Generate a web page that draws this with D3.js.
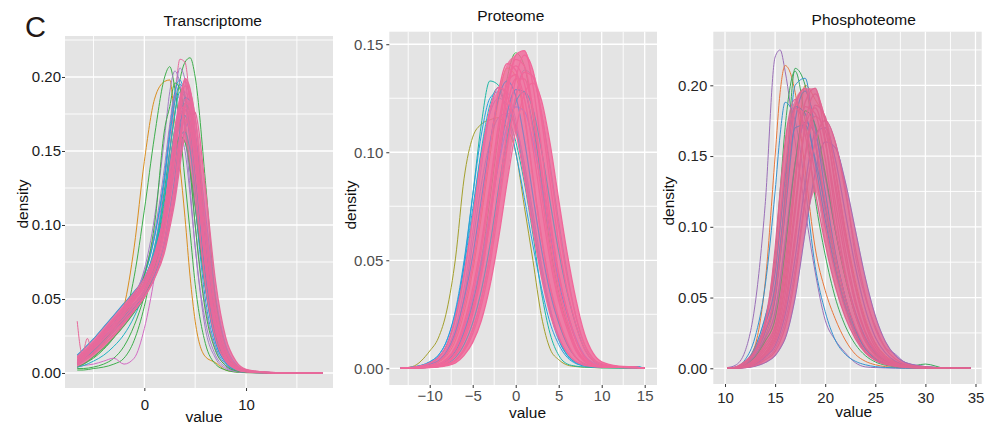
<!DOCTYPE html>
<html><head><meta charset="utf-8">
<script src="https://cdn.jsdelivr.net/npm/d3@7"></script>
<style>body{margin:0;background:#fff}svg{display:block}text{font-family:"Liberation Sans",Arial,Helvetica,sans-serif}</style>
</head><body><svg id="c" width="987" height="423"></svg>
<script>
// ---------------- DATA ----------------
const panelTitles = ["Transcriptome", "Proteome", "Phosphoteome"];

// Transcriptome
const transGrid = [-6.6,-6,-5,-4,-3,-2,-1,0,1,2,2.5,3,3.5,4,4.5,5,6,7,8,9,10,12,14,17.5];
const transBundle = [
 [0.010,0.013,0.020,0.028,0.036,0.044,0.052,0.061,0.078,0.108,0.132,0.158,0.186,0.197,0.185,0.150,0.072,0.028,0.009,0.003,0.001,0.0003,0.0001,0],
 [0.006,0.009,0.015,0.022,0.030,0.038,0.047,0.056,0.072,0.100,0.120,0.140,0.160,0.163,0.150,0.125,0.068,0.030,0.011,0.004,0.0015,0.0004,0.0001,0],
 [0.007,0.010,0.016,0.023,0.030,0.037,0.045,0.054,0.068,0.090,0.108,0.128,0.158,0.182,0.182,0.160,0.092,0.040,0.014,0.005,0.0018,0.0004,0.0001,0],
 [0.012,0.016,0.023,0.031,0.039,0.047,0.055,0.064,0.082,0.112,0.132,0.152,0.170,0.174,0.160,0.132,0.066,0.026,0.009,0.003,0.001,0.0003,0.0001,0],
 [0.005,0.008,0.013,0.019,0.026,0.034,0.042,0.051,0.064,0.085,0.102,0.122,0.152,0.180,0.190,0.172,0.102,0.045,0.016,0.005,0.002,0.0005,0.0001,0],
 [0.008,0.011,0.017,0.024,0.031,0.039,0.047,0.055,0.068,0.088,0.103,0.120,0.145,0.165,0.170,0.160,0.108,0.052,0.019,0.006,0.002,0.0005,0.0001,0],
 [0.009,0.012,0.018,0.026,0.033,0.041,0.049,0.058,0.073,0.100,0.122,0.148,0.178,0.194,0.188,0.158,0.080,0.032,0.011,0.004,0.0012,0.0003,0.0001,0],
 [0.004,0.006,0.011,0.017,0.024,0.032,0.041,0.051,0.070,0.104,0.127,0.148,0.160,0.156,0.138,0.112,0.058,0.024,0.009,0.003,0.001,0.0003,0.0001,0],
 [0.008,0.011,0.017,0.025,0.033,0.041,0.050,0.059,0.075,0.104,0.126,0.150,0.172,0.180,0.170,0.142,0.074,0.030,0.010,0.003,0.001,0.0003,0.0001,0],
 [0.006,0.009,0.015,0.021,0.028,0.036,0.044,0.053,0.066,0.090,0.110,0.132,0.164,0.186,0.184,0.162,0.090,0.038,0.013,0.004,0.0015,0.0004,0.0001,0],
 [0.010,0.013,0.019,0.027,0.035,0.043,0.051,0.060,0.074,0.098,0.117,0.138,0.160,0.171,0.165,0.145,0.082,0.036,0.012,0.004,0.0013,0.0003,0.0001,0],
 [0.007,0.010,0.016,0.023,0.031,0.039,0.047,0.056,0.070,0.096,0.120,0.146,0.180,0.199,0.192,0.162,0.082,0.032,0.011,0.0035,0.0012,0.0003,0.0001,0],
 [0.006,0.009,0.014,0.021,0.028,0.035,0.043,0.052,0.064,0.082,0.098,0.116,0.140,0.165,0.178,0.176,0.125,0.062,0.024,0.008,0.0025,0.0005,0.0001,0],
 [0.011,0.014,0.021,0.029,0.037,0.045,0.054,0.064,0.080,0.110,0.138,0.162,0.180,0.178,0.160,0.128,0.060,0.023,0.008,0.0025,0.0008,0.0002,0.0001,0]
];
const transBundleKeys = ["pink","cyan","pink","blue","pink","purple","pink","green","pink","blue","pink","pink","pink","pink"];
const transOutliers = [
 [0.006,0.008,0.013,0.020,0.030,0.045,0.085,0.143,0.185,0.197,0.198,0.170,0.140,0.105,0.065,0.035,0.011,0.007,0.002,0.0008,0.0003,0.0001,0,0],
 [0.004,0.006,0.010,0.016,0.024,0.036,0.065,0.110,0.160,0.200,0.207,0.192,0.165,0.130,0.095,0.060,0.020,0.006,0.002,0.0006,0.0002,0,0,0],
 [0.002,0.002,0.003,0.004,0.006,0.010,0.022,0.045,0.080,0.125,0.150,0.175,0.198,0.210,0.213,0.200,0.130,0.050,0.016,0.005,0.0015,0.0003,0,0],
 [0.006,0.009,0.014,0.021,0.028,0.036,0.045,0.055,0.075,0.115,0.150,0.185,0.212,0.210,0.180,0.135,0.060,0.022,0.007,0.002,0.0008,0.0002,0,0],
 [0.007,0.010,0.016,0.023,0.031,0.040,0.052,0.070,0.105,0.160,0.190,0.204,0.195,0.165,0.125,0.085,0.035,0.012,0.004,0.0012,0.0004,0.0001,0,0],
 [0.008,0.011,0.017,0.024,0.032,0.041,0.050,0.062,0.085,0.130,0.160,0.188,0.206,0.198,0.170,0.130,0.058,0.021,0.007,0.002,0.0007,0.0002,0,0],
 [0.003,0.003,0.004,0.006,0.010,0.018,0.032,0.052,0.080,0.118,0.142,0.165,0.178,0.182,0.176,0.158,0.100,0.048,0.017,0.005,0.0015,0.0003,0,0],
 [0.004,0.005,0.006,0.008,0.010,0.006,0.010,0.030,0.065,0.112,0.140,0.165,0.185,0.190,0.180,0.155,0.090,0.040,0.013,0.004,0.0012,0.0003,0,0],
 [0.004,0.005,0.008,0.012,0.018,0.026,0.038,0.055,0.082,0.120,0.142,0.162,0.175,0.178,0.170,0.150,0.095,0.045,0.016,0.005,0.0015,0.0003,0,0],
 [0.009,0.012,0.019,0.027,0.035,0.043,0.053,0.066,0.092,0.135,0.165,0.190,0.198,0.185,0.155,0.115,0.050,0.018,0.006,0.002,0.0006,0.0002,0,0],
 [0.006,0.009,0.014,0.021,0.029,0.037,0.046,0.056,0.075,0.108,0.130,0.150,0.160,0.150,0.120,0.085,0.030,0.010,0.003,0.001,0.0003,0.0001,0,0],
 [0.008,0.011,0.017,0.025,0.033,0.042,0.053,0.068,0.095,0.140,0.168,0.188,0.185,0.165,0.135,0.100,0.045,0.016,0.005,0.0015,0.0005,0.0001,0,0],
 [0.009,0.012,0.018,0.026,0.034,0.043,0.053,0.066,0.092,0.132,0.160,0.183,0.195,0.188,0.162,0.125,0.058,0.021,0.007,0.002,0.0006,0.0002,0,0],
 [0.008,0.011,0.017,0.025,0.033,0.041,0.050,0.062,0.085,0.122,0.150,0.175,0.190,0.186,0.165,0.132,0.065,0.025,0.008,0.0025,0.0008,0.0002,0,0],
 [0.007,0.010,0.015,0.022,0.030,0.039,0.050,0.066,0.100,0.165,0.180,0.196,0.192,0.170,0.138,0.100,0.042,0.015,0.005,0.0015,0.0005,0.0001,0,0]
];
const transOutlierKeys = ["orange","green","green","pink","purple","purple","green","magenta","cyan","blue","purple","purple","blue","cyan","green"];
const transWiggleX = [-6.6,-6.1,-5.6,-5.17,-4.8,-4,-3,-2,-1,0,1,2,2.5,3,3.5,4,4.5,5,6,7,8,9,10,12,14,17.5];
const transWiggleY = [0.035,0.0128,0.0234,0.0155,0.018,0.025,0.033,0.041,0.050,0.059,0.076,0.105,0.128,0.152,0.175,0.185,0.176,0.146,0.076,0.030,0.010,0.003,0.001,0.0003,0.0001,0];

// Proteome
const protGrid = [-13.4,-12,-10,-9,-8,-7,-6,-5,-4,-3,-2,-1,0,1,2,3,4,5,6,7,8,9,10,12,14,15];
const protBundle = [
 [0,0.0003,0.0015,0.003,0.007,0.015,0.029,0.048,0.074,0.102,0.128,0.141,0.138,0.118,0.089,0.061,0.038,0.023,0.012,0.005,0.002,0.001,0.0007,0.0004,0.0003,0],
 [0,0.0001,0.0005,0.001,0.002,0.004,0.009,0.018,0.032,0.052,0.080,0.110,0.134,0.145,0.138,0.115,0.086,0.058,0.036,0.020,0.009,0.0035,0.0015,0.0007,0.0004,0],
 [0,0.0002,0.0008,0.0016,0.0035,0.008,0.017,0.030,0.047,0.070,0.096,0.118,0.129,0.128,0.112,0.088,0.062,0.040,0.025,0.013,0.0055,0.002,0.001,0.0006,0.0004,0],
 [0,0.0003,0.001,0.002,0.0045,0.010,0.021,0.037,0.058,0.085,0.113,0.132,0.136,0.125,0.102,0.075,0.050,0.031,0.018,0.008,0.003,0.0012,0.0008,0.0005,0.0003,0],
 [0,0.0001,0.0006,0.0012,0.0025,0.006,0.013,0.025,0.043,0.068,0.098,0.126,0.145,0.147,0.131,0.102,0.070,0.044,0.026,0.013,0.005,0.002,0.001,0.0006,0.0004,0],
 [0,0.0002,0.001,0.002,0.004,0.009,0.018,0.032,0.050,0.072,0.094,0.112,0.121,0.119,0.105,0.084,0.061,0.041,0.026,0.014,0.006,0.0025,0.0012,0.0007,0.0004,0],
 [0,0.0001,0.0004,0.0008,0.0016,0.0035,0.008,0.016,0.029,0.048,0.074,0.102,0.125,0.137,0.135,0.118,0.092,0.065,0.042,0.024,0.011,0.0045,0.002,0.0008,0.0005,0],
 [0,0.0004,0.0018,0.0035,0.008,0.017,0.032,0.052,0.078,0.104,0.125,0.133,0.126,0.106,0.080,0.055,0.035,0.021,0.011,0.005,0.002,0.001,0.0007,0.0004,0.0003,0],
 [0,0.0002,0.0007,0.0014,0.003,0.0065,0.015,0.028,0.046,0.072,0.102,0.129,0.143,0.140,0.120,0.090,0.061,0.038,0.022,0.010,0.004,0.0016,0.0009,0.0005,0.0003,0],
 [0,0.0001,0.0005,0.001,0.0022,0.005,0.011,0.021,0.036,0.057,0.083,0.107,0.123,0.128,0.120,0.101,0.077,0.054,0.035,0.020,0.009,0.0035,0.0015,0.0007,0.0004,0],
 [0,0.0002,0.0009,0.0018,0.004,0.009,0.019,0.034,0.055,0.082,0.110,0.132,0.140,0.132,0.110,0.081,0.054,0.033,0.019,0.009,0.0035,0.0014,0.0008,0.0005,0.0003,0],
 [0,0.0001,0.0007,0.0013,0.003,0.007,0.015,0.027,0.044,0.068,0.096,0.121,0.134,0.134,0.119,0.093,0.066,0.043,0.026,0.013,0.0055,0.0022,0.001,0.0006,0.0004,0],
 [0,0.0005,0.0025,0.005,0.011,0.024,0.044,0.070,0.098,0.120,0.130,0.126,0.110,0.088,0.064,0.042,0.025,0.014,0.007,0.003,0.0014,0.0008,0.0005,0.0004,0.0003,0],
 [0,0.0001,0.0003,0.0006,0.0012,0.0025,0.006,0.012,0.022,0.038,0.060,0.086,0.110,0.127,0.132,0.124,0.104,0.078,0.053,0.032,0.016,0.007,0.003,0.001,0.0005,0]
];
const protBundleKeys = ["pink","pink","blue","pink","pink","purple","pink","blue","pink","cyan","pink","pink","pink","pink"];
const protOutliers = [
 [0,0.0008,0.008,0.014,0.027,0.051,0.088,0.107,0.113,0.115,0.116,0.111,0.100,0.075,0.050,0.024,0.009,0.004,0.0015,0.0008,0.0005,0.0003,0.0002,0.0001,0,0],
 [0,0.0003,0.002,0.005,0.011,0.024,0.048,0.080,0.113,0.133,0.131,0.118,0.105,0.086,0.062,0.035,0.016,0.006,0.002,0.001,0.0006,0.0004,0.0002,0.0001,0,0],
 [0,0.0005,0.003,0.006,0.013,0.026,0.047,0.074,0.100,0.118,0.125,0.122,0.110,0.091,0.068,0.045,0.026,0.013,0.006,0.003,0.0015,0.0008,0.0005,0.0004,0.0003,0],
 [0,0.0001,0.0004,0.0008,0.0018,0.004,0.009,0.018,0.032,0.052,0.078,0.104,0.126,0.138,0.135,0.118,0.094,0.068,0.044,0.024,0.011,0.0045,0.002,0.0008,0.0008,0],
 [0,0.0002,0.0008,0.0015,0.0032,0.007,0.016,0.030,0.050,0.078,0.108,0.134,0.146,0.140,0.117,0.086,0.057,0.035,0.020,0.009,0.0035,0.0014,0.0008,0.0005,0.0003,0],
 [0,0.0003,0.0014,0.0028,0.006,0.013,0.026,0.045,0.070,0.098,0.124,0.139,0.135,0.116,0.088,0.060,0.038,0.022,0.011,0.005,0.002,0.001,0.0006,0.0004,0.0003,0],
 [0,0.0003,0.0015,0.003,0.007,0.016,0.033,0.058,0.085,0.105,0.116,0.118,0.112,0.095,0.072,0.048,0.028,0.014,0.006,0.0025,0.0012,0.0008,0.0006,0.0008,0.0006,0],
 [0,0.0004,0.002,0.004,0.009,0.019,0.037,0.063,0.093,0.118,0.130,0.128,0.115,0.094,0.070,0.047,0.028,0.015,0.007,0.003,0.0014,0.0008,0.0005,0.0004,0.0003,0],
 [0,0.0006,0.003,0.006,0.013,0.027,0.050,0.080,0.108,0.125,0.128,0.118,0.100,0.079,0.057,0.037,0.021,0.011,0.005,0.0022,0.001,0.0006,0.0004,0.0006,0.0008,0],
 [0,0.0005,0.0025,0.005,0.011,0.023,0.043,0.071,0.101,0.122,0.130,0.126,0.112,0.091,0.067,0.044,0.026,0.014,0.006,0.0027,0.0012,0.0007,0.0004,0.0003,0.0002,0]
];
const protOutlierKeys = ["olive","teal","blue","cyan","green","orange","blue","purple","blue","cyan"];

// Phosphoteome
const phosGrid = [10.2,11,12,13,14,15,15.5,16,17,18,19,20,21,22,23,24,25,26,27,28,30,32,34.5];
const phosBundle = [
 [0,0.0003,0.002,0.007,0.017,0.030,0.048,0.075,0.135,0.185,0.180,0.148,0.100,0.065,0.038,0.020,0.010,0.005,0.0025,0.0012,0.0004,0.0001,0],
 [0,0.0005,0.003,0.011,0.026,0.050,0.078,0.110,0.175,0.196,0.170,0.125,0.082,0.050,0.028,0.014,0.007,0.0035,0.0018,0.0009,0.0003,0.0001,0],
 [0,0.0002,0.001,0.004,0.010,0.020,0.030,0.046,0.095,0.150,0.178,0.168,0.132,0.092,0.058,0.033,0.017,0.008,0.004,0.002,0.0006,0.0002,0],
 [0,0.0004,0.0025,0.009,0.021,0.040,0.062,0.090,0.145,0.174,0.165,0.135,0.098,0.066,0.040,0.022,0.011,0.0055,0.0028,0.0014,0.0005,0.0001,0],
 [0,0.0002,0.0015,0.006,0.015,0.028,0.044,0.068,0.132,0.188,0.198,0.162,0.110,0.068,0.038,0.019,0.009,0.0045,0.0022,0.0011,0.0004,0.0001,0],
 [0,0.0001,0.0008,0.003,0.008,0.016,0.025,0.038,0.078,0.130,0.166,0.170,0.148,0.110,0.072,0.042,0.022,0.011,0.005,0.0025,0.0008,0.0002,0],
 [0,0.0006,0.004,0.015,0.036,0.068,0.100,0.135,0.185,0.180,0.145,0.105,0.070,0.043,0.024,0.012,0.006,0.003,0.0015,0.0008,0.0003,0.0001,0],
 [0,0.0002,0.0012,0.005,0.013,0.025,0.038,0.058,0.115,0.170,0.184,0.160,0.118,0.078,0.046,0.025,0.012,0.006,0.003,0.0015,0.0005,0.0001,0],
 [0,0.0003,0.002,0.008,0.019,0.035,0.055,0.083,0.145,0.182,0.172,0.138,0.098,0.064,0.038,0.020,0.010,0.005,0.0025,0.0012,0.0004,0.0001,0],
 [0,0.0001,0.0008,0.0035,0.009,0.018,0.028,0.042,0.090,0.150,0.186,0.178,0.140,0.096,0.058,0.031,0.015,0.007,0.0035,0.0017,0.0006,0.0002,0],
 [0,0.0005,0.0035,0.013,0.031,0.058,0.086,0.118,0.170,0.172,0.148,0.115,0.080,0.050,0.028,0.014,0.007,0.0035,0.0018,0.0009,0.0003,0.0001,0],
 [0,0.0002,0.001,0.0045,0.011,0.022,0.034,0.052,0.110,0.172,0.194,0.175,0.128,0.084,0.049,0.026,0.013,0.006,0.003,0.0015,0.0005,0.0001,0],
 [0,0.0008,0.005,0.012,0.030,0.085,0.125,0.160,0.190,0.165,0.125,0.088,0.058,0.036,0.021,0.011,0.0055,0.0028,0.0014,0.0007,0.0002,0.0001,0],
 [0,0.0006,0.004,0.012,0.032,0.072,0.106,0.140,0.184,0.170,0.138,0.100,0.068,0.042,0.024,0.012,0.006,0.003,0.0015,0.0008,0.0003,0.0001,0],
 [0,0.0001,0.0005,0.002,0.006,0.012,0.019,0.029,0.065,0.118,0.160,0.175,0.160,0.125,0.085,0.052,0.028,0.014,0.0065,0.003,0.001,0.0003,0],
 [0,0.0004,0.003,0.011,0.027,0.052,0.080,0.115,0.185,0.198,0.162,0.118,0.080,0.050,0.029,0.015,0.0075,0.0037,0.0018,0.0009,0.0003,0.0001,0],
 [0,0.0001,0.0004,0.0015,0.004,0.009,0.014,0.021,0.050,0.096,0.138,0.160,0.156,0.132,0.098,0.064,0.037,0.019,0.009,0.004,0.0012,0.0003,0]
];
const phosBundleKeys = ["pink","blue","pink","purple","pink","purple","blue","pink","green","pink","blue","pink","pink","pink","pink","pink","purple"];
const phosOutliers = [
 [0.0005,0.002,0.012,0.045,0.115,0.220,0.225,0.210,0.160,0.112,0.068,0.034,0.020,0.011,0.004,0.001,0.0005,0.0002,0.0001,0,0,0,0],
 [0,0.0005,0.004,0.016,0.060,0.150,0.195,0.214,0.195,0.140,0.085,0.055,0.035,0.020,0.010,0.005,0.0025,0.0012,0.0006,0.0003,0.0001,0,0],
 [0,0.0001,0.001,0.004,0.011,0.025,0.040,0.062,0.130,0.200,0.190,0.175,0.140,0.098,0.062,0.035,0.018,0.009,0.0045,0.002,0.0006,0.0002,0],
 [0,0.0004,0.003,0.012,0.032,0.080,0.125,0.170,0.210,0.175,0.120,0.080,0.050,0.030,0.017,0.009,0.0045,0.0022,0.0011,0.0006,0.0002,0.0001,0],
 [0,0.0003,0.002,0.008,0.022,0.050,0.082,0.125,0.212,0.200,0.160,0.115,0.075,0.046,0.026,0.014,0.007,0.0035,0.0017,0.0008,0.003,0.0001,0],
 [0,0.0008,0.006,0.022,0.058,0.125,0.165,0.188,0.175,0.128,0.072,0.040,0.020,0.010,0.005,0.0025,0.0012,0.0006,0.0003,0.0001,0,0,0],
 [0,0.0003,0.002,0.009,0.025,0.055,0.085,0.120,0.200,0.205,0.160,0.110,0.072,0.045,0.026,0.014,0.007,0.0035,0.0017,0.0008,0.0003,0.0001,0],
 [0,0.0001,0.0006,0.0025,0.007,0.014,0.022,0.033,0.070,0.120,0.160,0.175,0.160,0.128,0.080,0.050,0.030,0.015,0.010,0.004,0.0012,0.0003,0]
];
const phosOutlierKeys = ["purple","orange","orange","green","green","blue","blue","purple"];

// Axis ticks
const transXTicks = [0, 10], transXMinor = [-5, 5, 15];
const transYTicks = [0, 0.05, 0.10, 0.15, 0.20], transYMinor = [0.025, 0.075, 0.125, 0.175, 0.225];
const protXTicks = [-10, -5, 0, 5, 10, 15], protXMinor = [-12.5, -7.5, -2.5, 2.5, 7.5, 12.5];
const protYTicks = [0, 0.05, 0.10, 0.15], protYMinor = [0.025, 0.075, 0.125];
const phosXTicks = [10, 15, 20, 25, 30, 35], phosXMinor = [12.5, 17.5, 22.5, 27.5, 32.5];
const phosYTicks = [0, 0.05, 0.10, 0.15, 0.20], phosYMinor = [0.025, 0.075, 0.125, 0.175, 0.225];

// ---------------- STYLE / LAYOUT ----------------
const palettes = [
 {pink:"#E8699B", orange:"#D98E1F", green:"#3DAE4B", purple:"#A27DC6", blue:"#2A9FD8", cyan:"#1FB3C3", magenta:"#D36AC4"},
 {pink:"#F0689A", olive:"#A39F2C", teal:"#1DB8A6", blue:"#2B9DE0", cyan:"#1DB6CC", green:"#45B04A", orange:"#E8873A", purple:"#8C8CE8"},
 {pink:"#DF6591", orange:"#E8773A", green:"#3BAA5C", purple:"#9A6FB8", blue:"#3592CE"}
];
const layout = [
 {x0:65, x1:333, y0:36, y1:388, xd:[-7.8,18.55], yd:[-0.01014,0.2277], yPad:1, xPad:8.5, lab:"#1a1a1a", tx:212.7, ty:26.3, vx:204, vy:421.5, dx:27.5, dy:204},
 {x0:389.3, x1:657, y0:31.7, y1:385, xd:[-14.7,16.43], yd:[-0.00773,0.1558], yPad:3, xPad:2.6, lab:"#4d4d4d", tx:510.8, ty:21.3, vx:527.5, vy:417.8, dx:355.7, dy:205},
 {x0:713.3, x1:981.7, y0:31.7, y1:384, xd:[8.83,35.62], yd:[-0.0111,0.2379], yPad:3, xPad:5.0, lab:"#262626", tx:863.7, ty:24.6, vx:853.7, vy:417.3, dx:674, dy:201}
];

const panels = [
 {grid:transGrid, bundle:transBundle, bkeys:transBundleKeys, out:transOutliers, okeys:transOutlierKeys,
  extra:[{x:transWiggleX, y:transWiggleY, key:"pink"}],
  xt:transXTicks, xm:transXMinor, yt:transYTicks, ym:transYMinor},
 {grid:protGrid, bundle:protBundle, bkeys:protBundleKeys, out:protOutliers, okeys:protOutlierKeys, extra:[],
  xt:protXTicks, xm:protXMinor, yt:protYTicks, ym:protYMinor},
 {grid:phosGrid, bundle:phosBundle, bkeys:phosBundleKeys, out:phosOutliers, okeys:phosOutlierKeys, extra:[],
  xt:phosXTicks, xm:phosXMinor, yt:phosYTicks, ym:phosYMinor}
];

panels.forEach((P,i)=>{
  [...P.bundle, ...P.out].forEach((s,j)=>{ if(s.length!==P.grid.length) throw new Error(`panel ${i} series ${j} length ${s.length} != ${P.grid.length}`); });
  if(P.bundle.length!==P.bkeys.length || P.out.length!==P.okeys.length) throw new Error(`panel ${i} key count`);
  P.extra.forEach(e=>{ if(e.x.length!==e.y.length) throw new Error("extra length"); });
});

const svg = d3.select("#c");
const defs = svg.append("defs");

svg.append("text").attr("x",25).attr("y",37).attr("font-size",29).attr("fill","#231815").text("C");

panels.forEach((P,i)=>{
  const L = layout[i], pal = palettes[i];
  const x = d3.scaleLinear().domain(L.xd).range([L.x0, L.x1]);
  const y = d3.scaleLinear().domain(L.yd).range([L.y1, L.y0]);
  const g = svg.append("g");
  g.append("rect").attr("x",L.x0).attr("y",L.y0).attr("width",L.x1-L.x0).attr("height",L.y1-L.y0).attr("fill","#E4E4E4");
  const gg = g.append("g").attr("stroke","#fff");
  P.xm.forEach(v=>gg.append("line").attr("x1",x(v)).attr("x2",x(v)).attr("y1",L.y0).attr("y2",L.y1).attr("stroke-width",0.9));
  P.ym.forEach(v=>gg.append("line").attr("y1",y(v)).attr("y2",y(v)).attr("x1",L.x0).attr("x2",L.x1).attr("stroke-width",0.9));
  P.xt.forEach(v=>gg.append("line").attr("x1",x(v)).attr("x2",x(v)).attr("y1",L.y0).attr("y2",L.y1).attr("stroke-width",1.3));
  P.yt.forEach(v=>gg.append("line").attr("y1",y(v)).attr("y2",y(v)).attr("x1",L.x0).attr("x2",L.x1).attr("stroke-width",1.3));
  const cid = "clip"+i;
  defs.append("clipPath").attr("id",cid).append("rect").attr("x",L.x0).attr("y",L.y0).attr("width",L.x1-L.x0).attr("height",L.y1-L.y0);
  const lg = g.append("g").attr("clip-path",`url(#${cid})`).attr("fill","none");
  const line = d3.line().x(d=>x(d[0])).y(d=>y(d[1])).curve(d3.curveMonotoneX);
  const pts = arr => P.grid.map((xv,k)=>[xv, arr[k]]);
  P.bundle.forEach((s,j)=>{ if(P.bkeys[j]!=="pink") lg.append("path").attr("d",line(pts(s))).attr("stroke",pal[P.bkeys[j]]).attr("stroke-width",1.1); });
  P.out.forEach((s,j)=>lg.append("path").attr("d",line(pts(s))).attr("stroke",pal[P.okeys[j]]).attr("stroke-width",1.0));
  // dense mass: region swept by the bundle curves
  const env = P.grid.map((xv,k)=>({x:xv, lo:d3.min(P.bundle, s=>s[k]), hi:d3.max(P.bundle, s=>s[k])}));
  lg.append("path").datum(env)
    .attr("d", d3.area().x(d=>x(d.x)).y0(d=>y(d.lo)).y1(d=>y(d.hi)).curve(d3.curveMonotoneX))
    .attr("fill", pal.pink).attr("fill-opacity",0.82).attr("stroke","none");
  P.bundle.forEach((s,j)=>{ if(P.bkeys[j]!=="pink") lg.append("path").attr("d",line(pts(s))).attr("stroke",pal[P.bkeys[j]]).attr("stroke-width",0.8).attr("stroke-opacity",0.55); });
  P.bundle.forEach((s,j)=>{ if(P.bkeys[j]==="pink") lg.append("path").attr("d",line(pts(s))).attr("stroke",pal.pink).attr("stroke-width",1.3); });
  P.extra.forEach(e=>lg.append("path").attr("d",line(e.x.map((xv,k)=>[xv,e.y[k]]))).attr("stroke",pal[e.key]).attr("stroke-width",1.0));
  const ax = g.append("g").attr("transform",`translate(0,${L.y1})`)
    .call(d3.axisBottom(x).tickValues(P.xt).tickSize(3).tickPadding(L.xPad).tickFormat(d3.format("d")));
  const ay = g.append("g").attr("transform",`translate(${L.x0},0)`)
    .call(d3.axisLeft(y).tickValues(P.yt).tickSize(3).tickPadding(L.yPad).tickFormat(d3.format(".2f")));
  [ax,ay].forEach(a=>{
    a.select(".domain").remove();
    a.selectAll(".tick line").attr("stroke","#333");
    a.selectAll(".tick text").attr("fill",L.lab).attr("font-size",15).attr("font-family",'"Liberation Sans",Arial,sans-serif');
  });
  g.append("text").attr("x",L.tx).attr("y",L.ty).attr("text-anchor","middle").attr("font-size",15.5).attr("fill","#111").text(panelTitles[i]);
  g.append("text").attr("x",L.vx).attr("y",L.vy).attr("text-anchor","middle").attr("font-size",15.5).attr("fill","#111").text("value");
  g.append("text").attr("transform",`translate(${L.dx},${L.dy}) rotate(-90)`).attr("text-anchor","middle").attr("font-size",15.5).attr("fill","#111").text("density");
});
</script></body></html>
